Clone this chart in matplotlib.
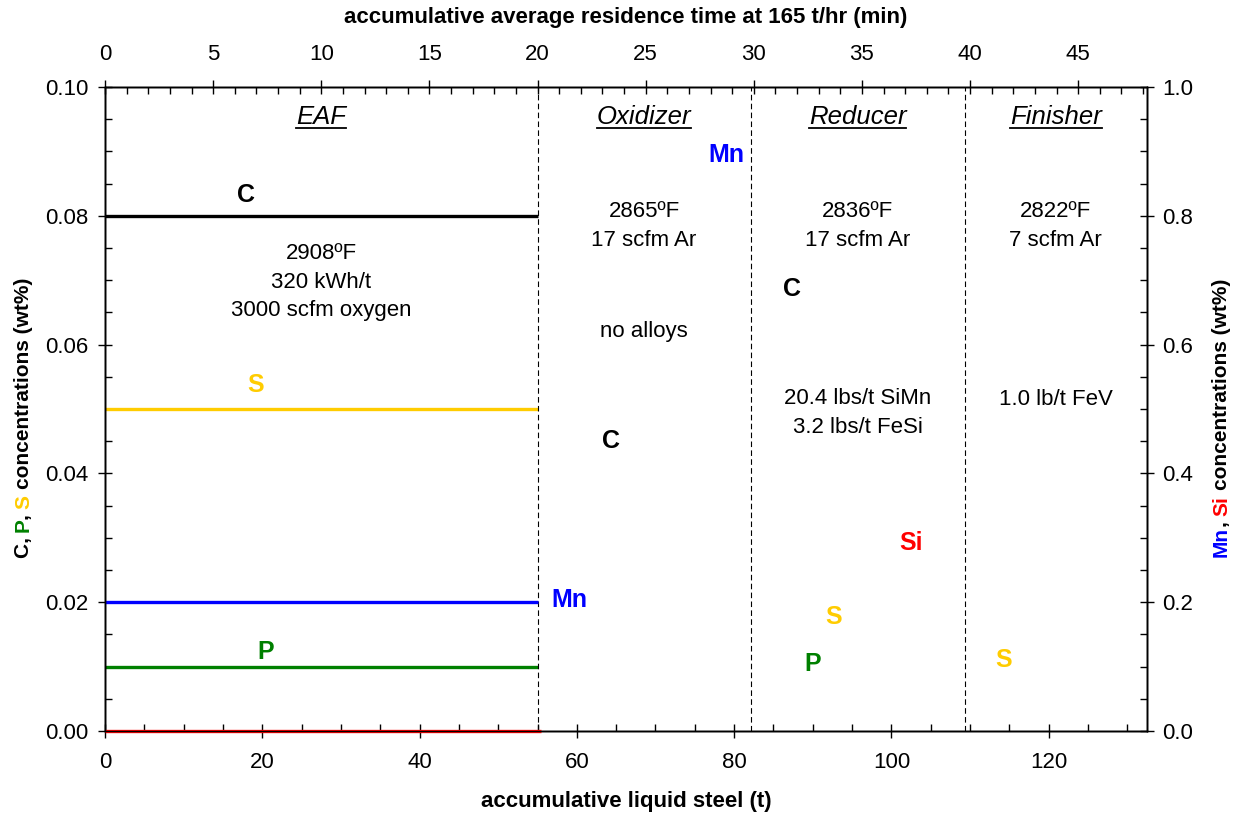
import matplotlib
matplotlib.use("Agg")
import matplotlib.pyplot as plt
from matplotlib.ticker import MultipleLocator, FormatStrFormatter
from matplotlib.font_manager import FontProperties
from matplotlib.lines import Line2D

plt.rcParams['font.family'] = ['Liberation Sans', 'DejaVu Sans']

# ---- data ----
tons_max = 132.5
rate_t_per_min = 165 / 60.0
section_bounds = [55.0, 82.1, 109.3]
section_names = ["EAF", "Oxidizer", "Reducer", "Finisher"]

eaf_x = [0, 55]
C_eaf = [0.08, 0.08]
S_eaf = [0.05, 0.05]
P_eaf = [0.01, 0.01]
Mn_eaf = [0.2, 0.2]        # right axis
Si_eaf_x = [0, 55.5]
Si_eaf = [0.0, 0.0]        # right axis

GOLD = "#FFCC00"
GREEN = "#008000"
BLUE = "#0000FF"
RED = "#FF0000"
# labels: (text, x, y, colour, axis)
species_labels = [
    ("C", 17.9, 0.0832, "black", "L"),
    ("S", 19.1, 0.0537, GOLD, "L"),
    ("Mn", 59.0, 0.203, BLUE, "R"),
    ("P", 20.4, 0.0123, GREEN, "L"),
    ("Mn", 79.0, 0.894, BLUE, "R"),
    ("C", 64.3, 0.0450, "black", "L"),
    ("C", 87.3, 0.0687, "black", "L"),
    ("Si", 102.5, 0.292, RED, "R"),
    ("S", 92.7, 0.0177, GOLD, "L"),
    ("P", 90.0, 0.0104, GREEN, "L"),
    ("S", 114.3, 0.0110, GOLD, "L"),
]

process_notes = [
    ("2908ºF\n320 kWh/t\n3000 scfm oxygen", 0, 0.0697),
    ("2865ºF\n17 scfm Ar", 1, 0.0784),
    ("no alloys", 1, 0.0621),
    ("2836ºF\n17 scfm Ar", 2, 0.0784),
    ("20.4 lbs/t SiMn\n3.2 lbs/t FeSi", 2, 0.0494),
    ("2822ºF\n7 scfm Ar", 3, 0.0784),
    ("1.0 lb/t FeV", 3, 0.0514),
]

# ---- figure ----
W, H = 1234, 815
fig = plt.figure(figsize=(W / 100, H / 100), dpi=100)
ax = fig.add_axes([105 / W, 1 - 731 / H, (1147 - 105) / W, (731 - 87) / H])
ax.set_xlim(0, tons_max)
ax.set_ylim(0, 0.1)
axr = ax.twinx()
axr.set_ylim(0, 1.0)
axt = ax.twiny()
axt.set_xlim(0, tons_max / rate_t_per_min)

edges = [0.0] + section_bounds + [tons_max]
section_centers = [(edges[i] + edges[i + 1]) / 2 for i in range(4)]

TS = 16
ax.xaxis.set_major_locator(MultipleLocator(20))
ax.xaxis.set_minor_locator(MultipleLocator(5))
ax.yaxis.set_major_locator(MultipleLocator(0.02))
ax.yaxis.set_minor_locator(MultipleLocator(0.005))
ax.yaxis.set_major_formatter(FormatStrFormatter('%.2f'))
axr.yaxis.set_major_locator(MultipleLocator(0.2))
axr.yaxis.set_minor_locator(MultipleLocator(0.05))
axr.yaxis.set_major_formatter(FormatStrFormatter('%.1f'))
axt.xaxis.set_major_locator(MultipleLocator(5))
axt.xaxis.set_minor_locator(MultipleLocator(1))

for a in (ax, axr, axt):
    a.tick_params(which='major', direction='inout', length=10, width=1, labelsize=TS)
    a.tick_params(which='minor', direction='in', length=5, width=1)
ax.tick_params(axis='x', which='major', pad=10)
ax.tick_params(axis='y', which='major', pad=7)
axr.tick_params(axis='y', which='major', pad=6)
axt.tick_params(axis='x', which='major', pad=11)
for a in (ax, axr, axt):
    for s in a.spines.values():
        s.set_linewidth(1.0)

# lines
lw = 2.4
ax.plot(eaf_x, C_eaf, color="black", lw=lw, solid_capstyle='butt')
ax.plot(eaf_x, S_eaf, color=GOLD, lw=lw, solid_capstyle='butt')
ax.plot(eaf_x, P_eaf, color=GREEN, lw=lw, solid_capstyle='butt')
axr.plot(eaf_x, Mn_eaf, color=BLUE, lw=lw, solid_capstyle='butt')
axr.plot(Si_eaf_x, Si_eaf, color=RED, lw=lw, solid_capstyle='butt', clip_on=False, zorder=5)

for xb in section_bounds:
    ax.axvline(xb, color="black", lw=0.8, ls=(0, (5, 3)))

for txt, x, y, c, which in species_labels:
    a = ax if which == "L" else axr
    a.text(x, y, txt, color=c, fontsize=18, fontweight='bold', ha='center', va='center')

for txt, si, y in process_notes:
    ax.text(section_centers[si], y, txt, fontsize=16, ha='center', va='center', linespacing=1.48)

# axis labels
ax.set_xlabel("accumulative liquid steel (t)", fontsize=16, fontweight='bold', labelpad=13)
axt.set_xlabel("accumulative average residence time at 165 t/hr (min)", fontsize=16,
               fontweight='bold', labelpad=15)

fig.canvas.draw()
renderer = fig.canvas.get_renderer()

# underlined italic section titles
title_fp = FontProperties(family=['Liberation Sans'], style='italic', size=18.5)
inv = fig.transFigure.inverted()
for name, xc in zip(section_names, section_centers):
    yb = 0.0942
    ax.text(xc, yb, name, fontproperties=title_fp, ha='center', va='baseline')
    w, h, d = renderer.get_text_width_height_descent(name, title_fp, ismath=False)
    px, py = ax.transData.transform((xc, yb))
    (x0, y0) = inv.transform((px - w / 2, py - 4))
    (x1, y1) = inv.transform((px + w / 2, py - 4))
    fig.add_artist(Line2D([x0, x1], [y0, y1], color='black', lw=1.3))

# multicoloured rotated y labels
lab_fp = FontProperties(family=['Liberation Sans'], weight='bold', size=15)


def tw(s):
    return renderer.get_text_width_height_descent(s, lab_fp, ismath=False)[0]


def multicolor_vlabel(pieces, xpix, ycenter_pix):
    full = "".join(p for p, _ in pieces)
    total = tw(full)
    start = ycenter_pix - total / 2
    idx = 0
    for p, c in pieces:
        stripped = p.lstrip()
        lead = len(p) - len(stripped)
        i0 = idx + lead
        off = tw(full[:i0 + 1]) - tw(full[i0])
        fig.text(xpix / W, (start + off) / H, stripped, fontproperties=lab_fp, color=c,
                 rotation=90, rotation_mode='anchor', ha='left', va='baseline')
        idx += len(p)


multicolor_vlabel([("C, ", "black"), ("P", GREEN), (", ", "black"), ("S", GOLD),
                   (" concentrations (wt%)", "black")], 29, H - 418)
multicolor_vlabel([("Mn", BLUE), (", ", "black"), ("Si", RED),
                   (" concentrations (wt%)", "black")], 1227, H - 418)

fig.savefig("out.png", dpi=100)
